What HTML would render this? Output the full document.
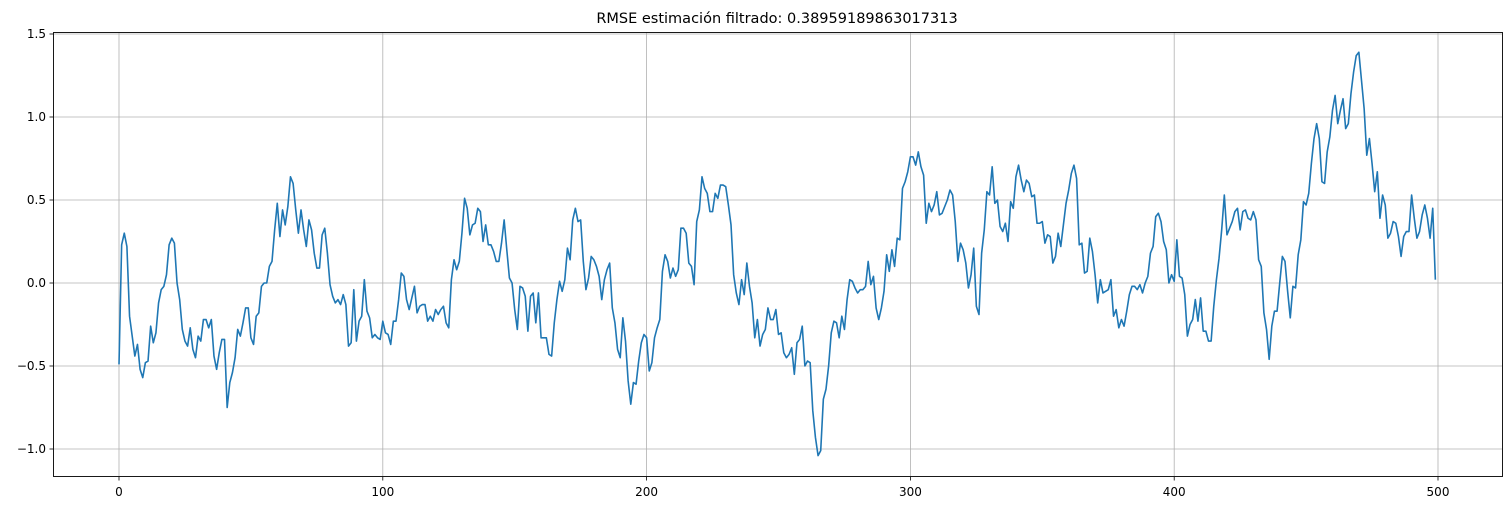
<!DOCTYPE html>
<html><head><meta charset="utf-8"><style>
body{margin:0;background:#fff;font-family:"Liberation Sans","DejaVu Sans",sans-serif}
svg text{font-family:"DejaVu Sans","Liberation Sans",sans-serif;font-size:12px;fill:#000}
</style></head><body>
<svg id="chart" width="1511" height="511" xmlns="http://www.w3.org/2000/svg">
<text x="777" y="23" text-anchor="middle" style="font-size:14.5px">RMSE estimación filtrado: 0.38959189863017313</text>
<g id="grid"></g><g id="ticks"></g><g id="series"></g>
<rect x="53.5" y="32.5" width="1449" height="444" fill="none" stroke="#000" stroke-width="0.9"/>
</svg>
<script>
const values = [
-0.49,0.23,0.30,0.22,-0.20,-0.32,-0.44,-0.37,-0.52,-0.57,
-0.48,-0.47,-0.26,-0.36,-0.30,-0.12,-0.04,-0.02,0.05,0.23,
0.27,0.24,0.00,-0.10,-0.28,-0.35,-0.38,-0.27,-0.40,-0.45,
-0.32,-0.35,-0.22,-0.22,-0.27,-0.22,-0.44,-0.52,-0.42,-0.34,
-0.34,-0.75,-0.60,-0.54,-0.45,-0.28,-0.32,-0.24,-0.15,-0.15,
-0.33,-0.37,-0.20,-0.18,-0.02,0.00,0.00,0.10,0.13,0.32,
0.48,0.28,0.44,0.35,0.46,0.64,0.60,0.44,0.30,0.44,
0.32,0.22,0.38,0.32,0.18,0.09,0.09,0.29,0.33,0.18,
-0.01,-0.08,-0.12,-0.10,-0.13,-0.07,-0.13,-0.38,-0.36,-0.04,
-0.35,-0.23,-0.20,0.02,-0.17,-0.21,-0.33,-0.31,-0.33,-0.34,
-0.23,-0.30,-0.31,-0.37,-0.23,-0.23,-0.10,0.06,0.04,-0.10,
-0.16,-0.09,-0.02,-0.18,-0.14,-0.13,-0.13,-0.23,-0.20,-0.23,
-0.16,-0.19,-0.16,-0.14,-0.24,-0.27,0.02,0.14,0.08,0.13,
0.30,0.51,0.45,0.29,0.35,0.36,0.45,0.43,0.25,0.35,
0.23,0.23,0.19,0.13,0.13,0.24,0.38,0.20,0.03,0.00,
-0.16,-0.28,-0.02,-0.03,-0.08,-0.29,-0.08,-0.06,-0.24,-0.06,
-0.33,-0.33,-0.33,-0.43,-0.44,-0.24,-0.10,0.01,-0.05,0.02,
0.21,0.14,0.38,0.45,0.37,0.38,0.13,-0.04,0.03,0.16,
0.14,0.10,0.04,-0.10,0.02,0.08,0.12,-0.15,-0.24,-0.40,
-0.45,-0.21,-0.35,-0.59,-0.73,-0.60,-0.61,-0.47,-0.36,-0.31,
-0.33,-0.53,-0.48,-0.33,-0.27,-0.22,0.07,0.17,0.13,0.03,
0.09,0.04,0.08,0.33,0.33,0.30,0.12,0.10,-0.01,0.37,
0.44,0.64,0.57,0.54,0.43,0.43,0.54,0.51,0.59,0.59,
0.58,0.47,0.35,0.05,-0.06,-0.13,0.02,-0.07,0.12,-0.02,
-0.12,-0.33,-0.22,-0.38,-0.31,-0.28,-0.15,-0.22,-0.22,-0.16,
-0.31,-0.30,-0.42,-0.45,-0.43,-0.39,-0.55,-0.36,-0.34,-0.26,
-0.50,-0.47,-0.48,-0.77,-0.93,-1.04,-1.01,-0.70,-0.64,-0.50,
-0.30,-0.23,-0.24,-0.33,-0.20,-0.28,-0.10,0.02,0.01,-0.03,
-0.06,-0.04,-0.04,-0.02,0.13,-0.01,0.04,-0.15,-0.22,-0.15,
-0.05,0.17,0.07,0.20,0.10,0.27,0.26,0.57,0.61,0.67,
0.76,0.76,0.71,0.79,0.70,0.65,0.36,0.48,0.43,0.47,
0.55,0.41,0.42,0.46,0.50,0.56,0.53,0.37,0.13,0.24,
0.20,0.12,-0.03,0.05,0.21,-0.14,-0.19,0.18,0.32,0.55,
0.53,0.70,0.48,0.50,0.34,0.31,0.36,0.25,0.49,0.45,
0.64,0.71,0.62,0.55,0.62,0.60,0.52,0.53,0.36,0.36,
0.37,0.24,0.29,0.28,0.12,0.16,0.30,0.22,0.35,0.48,
0.56,0.66,0.71,0.63,0.23,0.24,0.06,0.07,0.27,0.19,
0.05,-0.12,0.02,-0.06,-0.05,-0.04,0.02,-0.20,-0.16,-0.27,
-0.22,-0.26,-0.17,-0.07,-0.02,-0.02,-0.04,-0.01,-0.06,0.00,
0.04,0.18,0.22,0.40,0.42,0.37,0.25,0.20,0.00,0.05,
0.01,0.26,0.04,0.03,-0.07,-0.32,-0.25,-0.22,-0.10,-0.23,
-0.09,-0.29,-0.29,-0.35,-0.35,-0.14,0.02,0.15,0.32,0.53,
0.29,0.33,0.37,0.43,0.45,0.32,0.43,0.44,0.39,0.38,
0.43,0.38,0.14,0.10,-0.18,-0.28,-0.46,-0.26,-0.17,-0.17,
0.00,0.16,0.13,-0.05,-0.21,-0.02,-0.03,0.17,0.26,0.49,
0.47,0.54,0.72,0.87,0.96,0.87,0.61,0.60,0.79,0.88,
1.04,1.13,0.96,1.04,1.11,0.93,0.96,1.14,1.27,1.37,
1.39,1.22,1.05,0.77,0.87,0.72,0.55,0.67,0.39,0.53,
0.47,0.27,0.30,0.37,0.36,0.28,0.16,0.28,0.31,0.31,
0.53,0.39,0.27,0.31,0.41,0.47,0.39,0.27,0.45,0.02];
const xTicks = [0,100,200,300,400,500];
const yTicks = [-1.0,-0.5,0.0,0.5,1.0,1.5];
const yTickLabels = ["\u22121.0","\u22120.5","0.0","0.5","1.0","1.5"];

const NS="http://www.w3.org/2000/svg";
const X0=119, XS=(1438-119)/500, Y0=283, YS=166;
const sx=v=>X0+v*XS, sy=v=>Y0-v*YS;
const grid=document.getElementById('grid'), ticks=document.getElementById('ticks'), series=document.getElementById('series');
function mk(tag,attrs,parent){const e=document.createElementNS(NS,tag);for(const k in attrs)e.setAttribute(k,attrs[k]);parent.appendChild(e);return e;}
xTicks.forEach(t=>{
  const x=sx(t);
  const g=mk('line',{x1:x,x2:x,y1:32,y2:477,stroke:'#b0b0b0','stroke-width':0.8},grid);
  
  
  const tk=mk('line',{x1:x,x2:x,y1:477,y2:480.5,stroke:'#000','stroke-width':0.8},ticks);
  
  
  const tx=mk('text',{x:x,y:496,'text-anchor':'middle'},ticks);
  tx.textContent=String(t);
  
  
});
yTicks.forEach((t,i)=>{
  const y=sy(t);
  const g=mk('line',{x1:53,x2:1502,y1:y,y2:y,stroke:'#b0b0b0','stroke-width':0.8},grid);
  
  
  const tk=mk('line',{x1:49.5,x2:53,y1:y,y2:y,stroke:'#000','stroke-width':0.8},ticks);
  
  
  const tx=mk('text',{x:46,y:y+4,'text-anchor':'end'},ticks);
  tx.textContent=yTickLabels[i];
  
  
});
const d=values.map((v,i)=>(i?'L':'M')+sx(i).toFixed(2)+' '+sy(v).toFixed(2)).join(' ');
const p=mk('path',{d:d,fill:'none',stroke:'#1f77b4','stroke-width':1.6,'stroke-linejoin':'round'},series);


</script>
</body></html>
